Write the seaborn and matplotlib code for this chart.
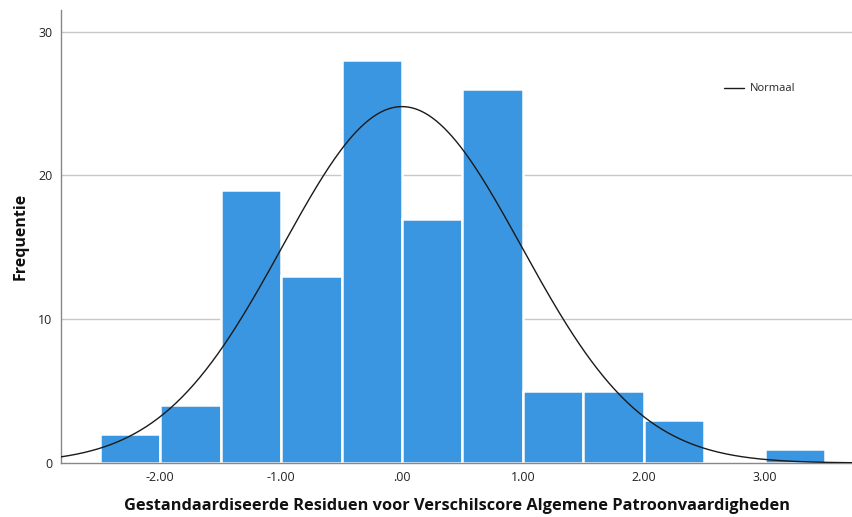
import numpy as np
import pandas as pd
import matplotlib
matplotlib.use("Agg")
import matplotlib.pyplot as plt
import seaborn as sns

# Histogram bins (standardized residuals) and frequencies
bin_edges = [-2.5, -2.0, -1.5, -1.0, -0.5, 0.0, 0.5, 1.0, 1.5, 2.0, 2.5, 3.0, 3.5]
frequencies = [2, 4, 19, 13, 28, 17, 26, 5, 5, 3, 0, 1]

# Normal curve parameters
curve_mean = 0.0
curve_sd = 0.99

x_ticks = [-2.0, -1.0, 0.0, 1.0, 2.0, 3.0]
x_tick_labels = ["-2.00", "-1.00", ".00", "1.00", "2.00", "3.00"]
y_ticks = [0, 10, 20, 30]
y_tick_labels = ["0", "10", "20", "30"]

sns.set_theme(style="white")
plt.rcParams["font.family"] = ["Open Sans", "DejaVu Sans"]

fig = plt.figure(figsize=(8.53, 5.17), dpi=100)
ax = fig.add_axes([0.0715, 0.1044, 0.9285, 0.8763])

edges = np.array(bin_edges)
centers = (edges[:-1] + edges[1:]) / 2
df = pd.DataFrame({"x": centers, "w": frequencies})

ax.set_axisbelow(True)
for yv in y_ticks[1:]:
    ax.axhline(yv, color="#c8c8c8", lw=1.0, zorder=0)

sns.histplot(data=df, x="x", weights="w", bins=list(bin_edges), ax=ax,
             color="#3a96e0", alpha=1.0, edgecolor="white", linewidth=1.8,
             zorder=2)

# Normal curve scaled to counts
n_total = sum(frequencies)
bw = edges[1] - edges[0]
xs = np.linspace(-2.82, 3.73, 400)
ys = n_total * bw * np.exp(-0.5 * ((xs - curve_mean) / curve_sd) ** 2) / (curve_sd * np.sqrt(2 * np.pi))
sns.lineplot(x=xs, y=ys, ax=ax, color="#1a1a1a", lw=1.0, zorder=3, label="Normaal")

ax.set_xlim(-2.82, 3.73)
ax.set_ylim(0, 31.5)
ax.set_xticks(x_ticks)
ax.set_xticklabels(x_tick_labels)
ax.set_yticks(y_ticks)
ax.set_yticklabels(y_tick_labels)
ax.tick_params(axis="both", length=0, labelsize=9, colors="#222222", pad=6)

for s in ["top", "right"]:
    ax.spines[s].set_visible(False)
for s in ["left", "bottom"]:
    ax.spines[s].set_color("#888888")
    ax.spines[s].set_linewidth(1.0)

ax.set_xlabel("Gestandaardiseerde Residuen voor Verschilscore Algemene Patroonvaardigheden",
              fontsize=11.8, fontweight="bold", color="#111111", labelpad=10)
ax.set_ylabel("Frequentie", fontsize=11.5, fontweight="bold", color="#111111", labelpad=7)

leg = ax.legend(loc="upper left", bbox_to_anchor=(0.825, 0.86), frameon=False,
                fontsize=8, handlelength=1.8, handletextpad=0.5)

fig.savefig("out.png", dpi=100)
